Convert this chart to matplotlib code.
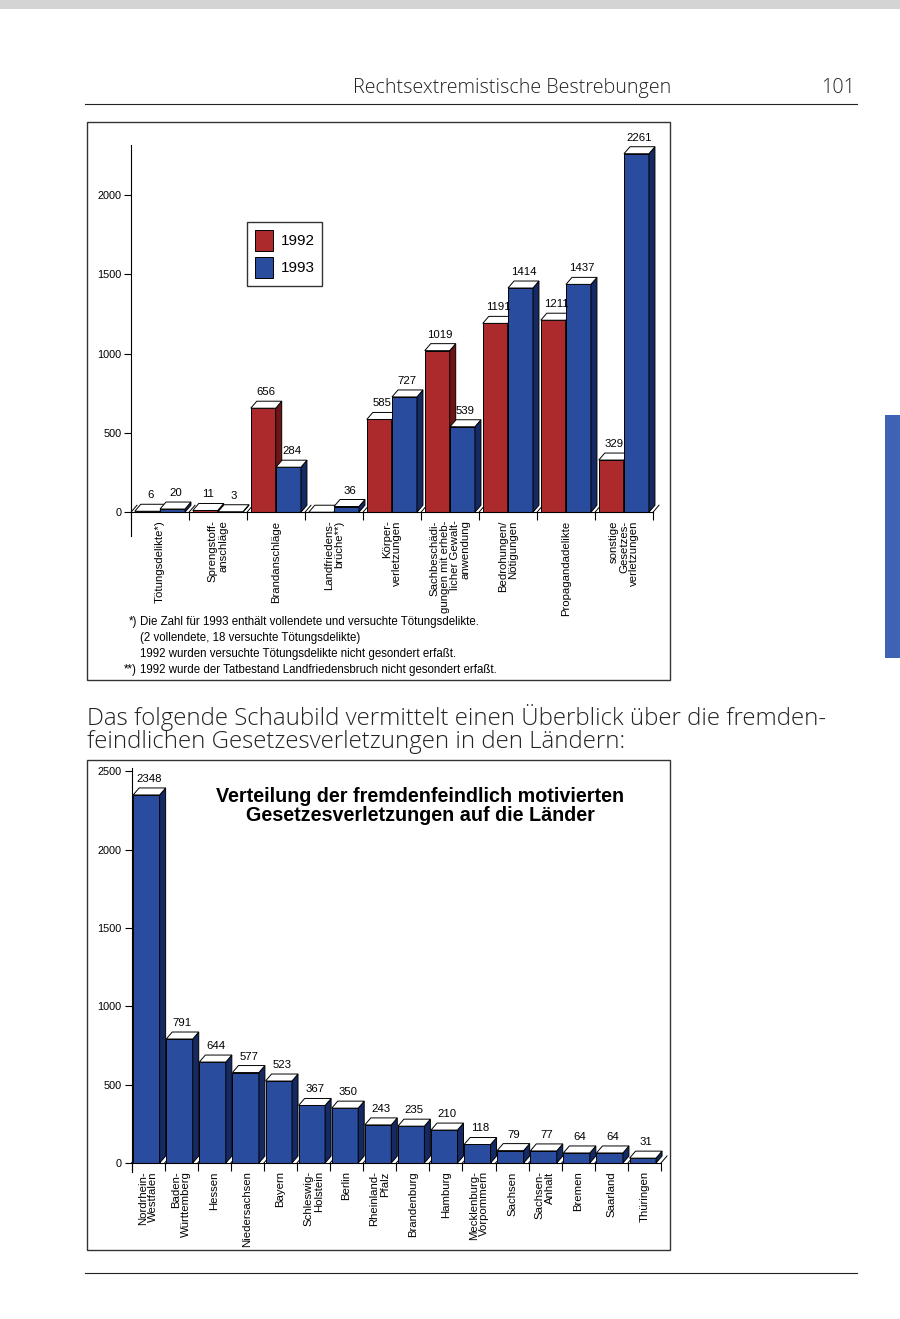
import numpy as np
import matplotlib.pyplot as plt
from matplotlib.patches import Polygon, Rectangle, Patch
from matplotlib.lines import Line2D

plt.rcParams['font.family'] = ['Liberation Sans', 'DejaVu Sans']

W, H = 900, 1319

# chart 1 data
delikte = ['Tötungsdelikte*)', 'Sprengstoff-\nanschläge', 'Brandanschläge',
           'Landfriedens-\nbrüche**)', 'Körper-\nverletzungen',
           'Sachbeschädi-\ngungen mit erheb-\nlicher Gewalt-\nanwendung',
           'Bedrohungen/\nNötigungen', 'Propagandadelikte',
           'sonstige\nGesetzes-\nverletzungen']
v1992 = [6, 11, 656, np.nan, 585, 1019, 1191, 1211, 329]
v1993 = [20, 3, 284, 36, 727, 539, 1414, 1437, 2261]

# chart 2 data
laender = ['Nordrhein-\nWestfalen', 'Baden-\nWürttemberg', 'Hessen', 'Niedersachsen',
           'Bayern', 'Schleswig-\nHolstein', 'Berlin', 'Rheinland-\nPfalz',
           'Brandenburg', 'Hamburg', 'Mecklenburg-\nVorpommern', 'Sachsen',
           'Sachsen-\nAnhalt', 'Bremen', 'Saarland', 'Thüringen']
werte = [2348, 791, 644, 577, 523, 367, 350, 243, 235, 210, 118, 79, 77, 64, 64, 31]

footnotes = ['Die Zahl für 1993 enthält vollendete und versuchte Tötungsdelikte.',
             '(2 vollendete, 18 versuchte Tötungsdelikte)',
             '1992 wurden versuchte Tötungsdelikte nicht gesondert erfaßt.',
             '1992 wurde der Tatbestand Landfriedensbruch nicht gesondert erfaßt.']

RED, RED_SIDE = '#ad2a2c', '#6e1518'
BLUE, BLUE_SIDE = '#2a4c9e', '#152a62'
LIGHT = ['Open Sans', 'DejaVu Sans']


def rect(x0, y0, x1, y1):
    return [x0 / W, 1 - y1 / H, (x1 - x0) / W, (y1 - y0) / H]


def px_to_data(ax, dxp, dyp):
    bb = ax.get_position()
    x0, x1 = ax.get_xlim()
    y0, y1 = ax.get_ylim()
    return dxp * (x1 - x0) / (bb.width * W), dyp * (y1 - y0) / (bb.height * H)


def bar3d(ax, x, h, w, face, side, dx, dy):
    l, r = x - w / 2, x + w / 2
    if np.isnan(h):
        ax.add_patch(Polygon([(l, 0), (l + dx, dy), (r + dx, dy), (r, 0)],
                             fc='white', ec='k', lw=0.7, clip_on=False))
        return
    ax.bar(x, h, w, color=face, edgecolor='k', linewidth=0.7, clip_on=False)
    ax.add_patch(Polygon([(r, 0), (r + dx, dy), (r + dx, h + dy), (r, h)],
                         fc=side, ec='k', lw=0.7, clip_on=False))
    ax.add_patch(Polygon([(l, h), (l + dx, h + dy), (r + dx, h + dy), (r, h)],
                         fc='white', ec='k', lw=0.7, clip_on=False))


def style(ax, n, labels, fs):
    ax.patch.set_visible(False)
    ax.spines['top'].set_visible(False)
    ax.spines['right'].set_visible(False)
    ax.spines['bottom'].set_position(('data', 0))
    ax.spines['left'].set_linewidth(0.8)
    ax.spines['bottom'].set_linewidth(0.8)
    ax.tick_params(axis='y', direction='out', length=5, width=0.8, labelsize=7.8, pad=2)
    ax.set_xticks(np.arange(n), labels, rotation=90, ha='center', va='top',
                  multialignment='right', fontsize=fs, linespacing=1.05)
    ax.set_xticks(np.arange(n + 1) - 0.5, minor=True)
    ax.tick_params(axis='x', which='major', length=0, pad=6)
    ax.tick_params(axis='x', which='minor', direction='out', length=6, width=0.8)


fig = plt.figure(figsize=(9, 13.19), dpi=100)

# page decoration
fig.add_artist(Rectangle((0, 1 - 9 / H), 1, 9 / H, transform=fig.transFigure,
                         fc='#d4d4d4', ec='none'))
fig.add_artist(Rectangle((885 / W, 1 - 658 / H), 15 / W, 243 / H, transform=fig.transFigure,
                         fc='#3f63b4', ec='none'))
fig.text(512 / W, 1 - 88 / H, 'Rechtsextremistische Bestrebungen', ha='center', va='center',
         fontsize=14.2, color='#222222', family=LIGHT, fontweight='light')
fig.text(855 / W, 1 - 88 / H, '101', ha='right', va='center', fontsize=14.2, color='#222222',
         family=LIGHT, fontweight='light')
fig.add_artist(Line2D([85 / W, 857 / W], [1 - 104 / H] * 2, color='#222222', lw=0.8))
fig.add_artist(Line2D([85 / W, 857 / W], [1 - 1273 / H] * 2, color='#222222', lw=0.8))
fig.add_artist(Rectangle((87 / W, 1 - 680 / H), 583 / W, 558 / H, transform=fig.transFigure,
                         fill=False, ec='#333333', lw=1))
fig.add_artist(Rectangle((87 / W, 1 - 1250 / H), 583 / W, 490 / H, transform=fig.transFigure,
                         fill=False, ec='#333333', lw=1))
fig.text(87 / W, 1 - 717 / H, 'Das folgende Schaubild vermittelt einen Überblick über die fremden-',
         ha='left', va='center', fontsize=17.3, color='#222222', family=LIGHT, fontweight='light')
fig.text(87 / W, 1 - 742 / H, 'feindlichen Gesetzesverletzungen in den Ländern:',
         ha='left', va='center', fontsize=17.3, color='#222222', family=LIGHT, fontweight='light')

# chart 1
ax1 = fig.add_axes(rect(131, 145, 653, 536))
ax1.set_xlim(-0.5, 8.5)
ax1.set_ylim(-150, 2316)
ax1.set_yticks([0, 500, 1000, 1500, 2000])
style(ax1, len(delikte), delikte, 8.2)
dx, dy = px_to_data(ax1, 6, 7)
_, lab = px_to_data(ax1, 0, 16)
for b in np.arange(len(delikte) + 1) - 0.5:
    ax1.plot([b, b + dx], [0, dy], color='k', lw=0.7, zorder=0.5, clip_on=False)
w = 0.43
for i in range(len(delikte)):
    bar3d(ax1, i - 0.22, v1992[i], w, RED, RED_SIDE, dx, dy)
    bar3d(ax1, i + 0.215, v1993[i], w, BLUE, BLUE_SIDE, dx, dy)
    if not np.isnan(v1992[i]):
        ax1.text(i - 0.22 + dx / 2, v1992[i] + lab, str(v1992[i]), ha='center', va='center',
                 fontsize=8.2)
    ax1.text(i + 0.215 + dx / 2, v1993[i] + lab, str(v1993[i]), ha='center', va='center',
             fontsize=8.2)

fig.legend([Patch(fc=RED, ec='k', lw=0.7), Patch(fc=BLUE, ec='k', lw=0.7)], ['1992', '1993'],
           loc='upper left', bbox_to_anchor=(247 / W, 1 - 222 / H), borderaxespad=0,
           fancybox=False, edgecolor='#333333', framealpha=1, fontsize=11, handlelength=1.2,
           handleheight=1.8, borderpad=0.5, labelspacing=0.35, handletextpad=0.5)

fy = [622, 638, 654, 670]
fig.text(137 / W, 1 - fy[0] / H, '*)', ha='right', va='center', fontsize=8.3)
fig.text(137 / W, 1 - fy[3] / H, '**)', ha='right', va='center', fontsize=8.3)
for t, y in zip(footnotes, fy):
    fig.text(140 / W, 1 - y / H, t, ha='left', va='center', fontsize=8.3)

# chart 2
ax2 = fig.add_axes(rect(131.5, 768, 661, 1172.4))
ax2.set_xlim(-0.5, 15.5)
ax2.set_ylim(-60, 2520)
ax2.set_yticks([0, 500, 1000, 1500, 2000, 2500])
style(ax2, len(laender), laender, 8.2)
dx, dy = px_to_data(ax2, 6, 7)
_, lab = px_to_data(ax2, 0, 16)
for b in np.arange(len(laender) + 1) - 0.5:
    ax2.plot([b, b + dx], [0, dy], color='k', lw=0.7, zorder=0.5, clip_on=False)
for i, v in enumerate(werte):
    bar3d(ax2, i - 0.05, v, 0.8, BLUE, BLUE_SIDE, dx, dy)
    ax2.text(i - 0.05 + dx / 2, v + lab, str(v), ha='center', va='center', fontsize=8.2)

fig.text(420 / W, 1 - 806 / H,
         'Verteilung der fremdenfeindlich motivierten\nGesetzesverletzungen auf die Länder',
         ha='center', va='center', fontsize=14.2, fontweight='bold', linespacing=1.05)

fig.savefig('out.png', dpi=100, facecolor='white')
